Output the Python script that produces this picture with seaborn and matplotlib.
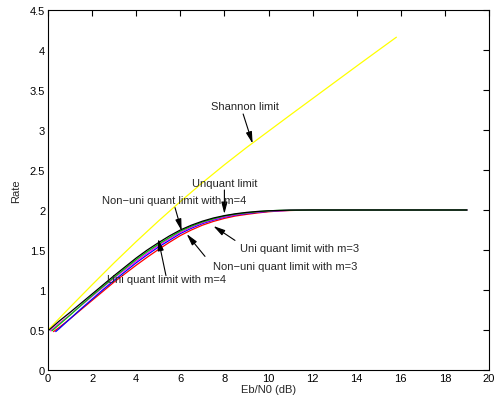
import matplotlib
matplotlib.use("Agg")
import matplotlib.pyplot as plt
import seaborn as sns
import pandas as pd

# ---- data ----
shannon_x = [0, 1, 2, 3, 4, 5, 6, 7, 8, 9, 10, 11, 12, 13, 14, 15, 15.8]
shannon_y = [0.5, 0.785, 1.065, 1.34, 1.605, 1.86, 2.105, 2.34, 2.565, 2.78,
             2.985, 3.19, 3.393, 3.596, 3.799, 4.0, 4.16]

grid_x = [0.5, 1, 1.5, 2, 2.5, 3, 3.5, 4, 4.5, 5, 5.5, 6, 6.5, 7, 7.5, 8,
          8.5, 9, 9.5, 10, 10.5, 11, 12, 19]

unquant_start = (0.05, 0.50)
unquant_y = [0.61, 0.72, 0.835, 0.95, 1.065, 1.18, 1.29, 1.40, 1.50, 1.59,
             1.675, 1.75, 1.81, 1.86, 1.90, 1.93, 1.953, 1.97, 1.982, 1.99,
             1.995, 1.998, 2.0, 2.0]

nonuni4_start = (0.18, 0.49)
nonuni4_y = [0.565, 0.685, 0.81, 0.93, 1.045, 1.16, 1.27, 1.38, 1.48, 1.57,
             1.655, 1.735, 1.797, 1.85, 1.89, 1.925, 1.948, 1.965, 1.979, 1.99,
             1.995, 1.998, 2.0, 2.0]

uni4_start = (0.12, 0.49)
uni4_y = [0.58, 0.69, 0.805, 0.92, 1.035, 1.15, 1.255, 1.36, 1.46, 1.555,
          1.64, 1.72, 1.785, 1.84, 1.882, 1.915, 1.942, 1.96, 1.975, 1.985,
          1.992, 1.997, 2.0, 2.0]

nonuni3_start = (0.35, 0.48)
nonuni3_y = [0.515, 0.64, 0.765, 0.885, 1.005, 1.12, 1.23, 1.34, 1.44, 1.535,
             1.62, 1.705, 1.772, 1.83, 1.874, 1.91, 1.937, 1.955, 1.971, 1.983,
             1.991, 1.996, 2.0, 2.0]

uni3_start = (0.25, 0.48)
uni3_y = [0.53, 0.64, 0.755, 0.87, 0.985, 1.10, 1.205, 1.31, 1.41, 1.505,
          1.595, 1.68, 1.75, 1.81, 1.857, 1.895, 1.925, 1.945, 1.963, 1.978,
          1.988, 1.994, 2.0, 2.0]

x_ticks = [0, 2, 4, 6, 8, 10, 12, 14, 16, 18, 20]
y_ticks = [0, 0.5, 1, 1.5, 2, 2.5, 3, 3.5, 4, 4.5]
y_tick_labels = ["0", "0.5", "1", "1.5", "2", "2.5", "3", "3.5", "4", "4.5"]

# ---- build tidy table ----
rows = []
for x, y in zip(shannon_x, shannon_y):
    rows.append(("Shannon", x, y))
series = [
    ("Unquant", unquant_start, unquant_y),
    ("NonUni4", nonuni4_start, nonuni4_y),
    ("Uni4", uni4_start, uni4_y),
    ("NonUni3", nonuni3_start, nonuni3_y),
    ("Uni3", uni3_start, uni3_y),
]
for name, start, ys in series:
    rows.append((name, start[0], start[1]))
    for x, y in zip(grid_x, ys):
        rows.append((name, x, y))
df = pd.DataFrame(rows, columns=["series", "x", "y"])

palette = {
    "Shannon": "#ffff00",
    "Uni3": "#ff0000",
    "NonUni3": "#0000ff",
    "Uni4": "#ff00ff",
    "NonUni4": "#00cc00",
    "Unquant": "#000000",
}

sns.set_style("white")
plt.rcParams["font.family"] = ["Liberation Sans", "DejaVu Sans"]

fig = plt.figure(figsize=(4.98, 4.06), dpi=100)
ax = fig.add_axes([48 / 498, 35 / 406, 441 / 498, 360 / 406])

order = ["Shannon", "Uni3", "NonUni3", "Uni4", "NonUni4", "Unquant"]
for name in order:
    sub = df[df["series"] == name]
    sns.lineplot(data=sub, x="x", y="y", color=palette[name], lw=0.9,
                 ax=ax, estimator=None, sort=False, legend=False)

ax.set_xlim(0, 20)
ax.set_ylim(0, 4.5)
ax.set_xticks(x_ticks)
ax.set_xticklabels([str(t) for t in x_ticks])
ax.set_yticks(y_ticks)
ax.set_yticklabels(y_tick_labels)
ax.tick_params(direction="in", length=4, width=0.8, labelsize=8,
               top=True, right=True, colors="black", pad=2)
for s in ax.spines.values():
    s.set_visible(True)
    s.set_color("black")
    s.set_linewidth(0.8)
ax.set_xlabel("Eb/N0 (dB)", fontsize=8, labelpad=1)
ax.set_ylabel("Rate", fontsize=8, labelpad=6)

arrow = dict(arrowstyle="-|>,head_width=0.18,head_length=0.7", color="black",
             lw=0.8, shrinkA=0, shrinkB=0)
fs = 8
ax.text(8.93, 3.3, "Shannon limit", ha="center", va="center", fontsize=fs)
ax.annotate("", xy=(9.28, 2.83), xytext=(8.85, 3.2), arrowprops=arrow)
ax.text(8.03, 2.34, "Unquant limit", ha="center", va="center", fontsize=fs)
ax.annotate("", xy=(8.0, 1.95), xytext=(8.0, 2.25), arrowprops=arrow)
ax.text(5.74, 2.12, "Non\u2212uni quant limit with m=4", ha="center", va="center", fontsize=fs)
ax.annotate("", xy=(6.06, 1.74), xytext=(5.76, 2.03), arrowprops=arrow)
ax.text(11.43, 1.525, "Uni quant limit with m=3", ha="center", va="center", fontsize=fs)
ax.annotate("", xy=(7.5, 1.80), xytext=(8.48, 1.62), arrowprops=arrow)
ax.text(10.75, 1.30, "Non\u2212uni quant limit with m=3", ha="center", va="center", fontsize=fs)
ax.annotate("", xy=(6.29, 1.70), xytext=(7.12, 1.42), arrowprops=arrow)
ax.text(5.38, 1.14, "Uni quant limit with m=4", ha="center", va="center", fontsize=fs)
ax.annotate("", xy=(5.0, 1.64), xytext=(5.35, 1.18), arrowprops=arrow)

fig.savefig("out.png", dpi=100)
